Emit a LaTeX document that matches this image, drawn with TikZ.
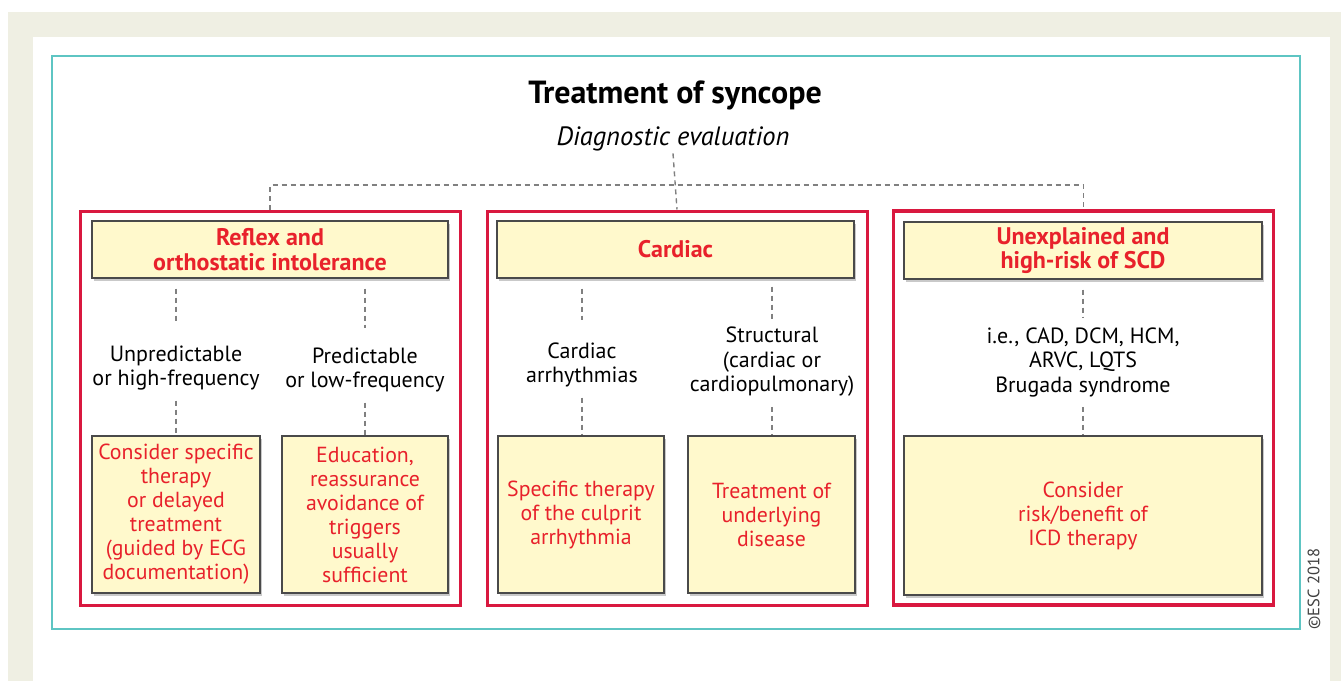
\documentclass[tikz,border=0pt]{standalone}
\usepackage{fontspec}
\setmainfont{PT Sans}
\usetikzlibrary{shadows}
\definecolor{beige}{HTML}{EFEFE3}
\definecolor{teal}{HTML}{5EC5C3}
\definecolor{frame}{HTML}{D9183F}
\definecolor{rtext}{HTML}{E8212B}
\definecolor{yel}{HTML}{FFF9CC}
\definecolor{bord}{HTML}{4A4A4A}
\definecolor{dashgray}{HTML}{808080}
\tikzset{
  ybox/.style={draw=bord, line width=1.3pt, fill=yel, inner sep=2pt, align=center,
    text=rtext, font=\fontsize{21.8}{24}\selectfont,
    drop shadow={shadow xshift=2pt, shadow yshift=-3pt, opacity=0.35, fill=black!60}},
  hbox/.style={ybox, font=\bfseries\fontsize{24}{24.5}\selectfont, minimum height=57pt},
  rframe/.style={draw=frame, line width=3pt, minimum width=380pt, minimum height=394pt},
  lbl/.style={align=center, inner sep=0pt, font=\fontsize{22}{24.5}\selectfont},
  dline/.style={draw=dashgray, line width=1.4pt, dash pattern=on 5pt off 4pt}
}
\begin{document}
\begin{tikzpicture}[x=1pt,y=-1pt]
\useasboundingbox (0,0) rectangle (1341,681);
\fill[white] (0,0) rectangle (1341,681);
\fill[beige] (8,12) rectangle (1341,681);
\fill[white] (33,37) rectangle (1330,681);
\draw[teal, line width=2.5pt] (52,56) rectangle (1300,629);
\node[rotate=90, text=black!75, font=\fontsize{16.5}{18}\selectfont, inner sep=0pt] (copy) at (1314,589) {©ESC 2018};

\node[font=\bfseries\fontsize{32}{34}\selectfont, inner sep=0pt] (title) at (675,95) {Treatment of syncope};
\node[font=\itshape\fontsize{26.5}{28}\selectfont, inner sep=2pt] (diag) at (673,139) {Diagnostic evaluation};

% red frames
\node[rframe] (R1) at (270,408) {};
\node[rframe] (R2) at (677,408) {};
\node[rframe, line width=3.5pt] (R3) at (1083.5,408) {};

% header boxes
\node[hbox, minimum width=356pt] (H1) at (270,249.5) {Reflex and\\orthostatic intolerance};
\node[hbox, minimum width=357pt] (H2) at (675.5,249.5) {Cardiac};
\node[hbox, minimum width=358pt] (H3) at (1083,250.5) {Unexplained and\\high-risk of SCD};

% labels
\node[lbl] (L1) at (176,368) {Unpredictable\\or high-frequency};
\node[lbl] (L2) at (365,370) {Predictable\\or low-frequency};
\node[lbl] (L3) at (582,365) {Cardiac\\arrhythmias};
\node[lbl] (L4) at (772,362) {Structural\\(cardiac or\\cardiopulmonary)};
\node[lbl] (L5) at (1083,362) {i.e., CAD, DCM, HCM,\\ARVC, LQTS\\Brugada syndrome};

% bottom boxes
\node[ybox, minimum width=168pt, minimum height=157pt] (B1) at (176,514.5) {Consider specific\\therapy\\or delayed\\treatment\\(guided by ECG\\documentation)};
\node[ybox, minimum width=166pt, minimum height=157pt] (B2) at (365,514.5) {Education,\\reassurance\\avoidance of\\triggers\\usually\\sufficient};
\node[ybox, minimum width=166pt, minimum height=157pt] (B3) at (581,514.5) {Specific therapy\\of the culprit\\arrhythmia};
\node[ybox, minimum width=167pt, minimum height=157pt] (B4) at (771.5,514.5) {Treatment of\\underlying\\disease};
\node[ybox, minimum width=358pt, minimum height=159pt] (B5) at (1083,515.5) {Consider\\risk/benefit of\\ICD therapy};

% top connectors
\coordinate (bus) at (676,185);
\draw[dline] (diag.south) -- (R2.north);
\draw[dline] (R1.north) -- (R1.north |- bus) -- (R3.north |- bus) -- (R3.north);

% inner connectors
\draw[dline, shorten <=10pt, shorten >=22pt] (L1.north |- H1.south) -- (L1.north);
\draw[dline, shorten <=10pt, shorten >=20pt] (L2.north |- H1.south) -- (L2.north);
\draw[dline, shorten <=10pt, shorten >=22pt] (L3.north |- H2.south) -- (L3.north);
\draw[dline, shorten <=8pt, shorten >=8pt] (L4.north |- H2.south) -- (L4.north);
\draw[dline, shorten <=10pt, shorten >=10pt] (L5.north |- H3.south) -- (L5.north);
\draw[dline, shorten <=10pt] (L1.south) -- (L1.south |- B1.north);
\draw[dline, shorten <=10pt] (L2.south) -- (L2.south |- B2.north);
\draw[dline, shorten <=10pt] (L3.south) -- (L3.south |- B3.north);
\draw[dline, shorten <=10pt] (L4.south) -- (L4.south |- B4.north);
\draw[dline, shorten <=10pt] (L5.south) -- (L5.south |- B5.north);
\end{tikzpicture}
\end{document}
